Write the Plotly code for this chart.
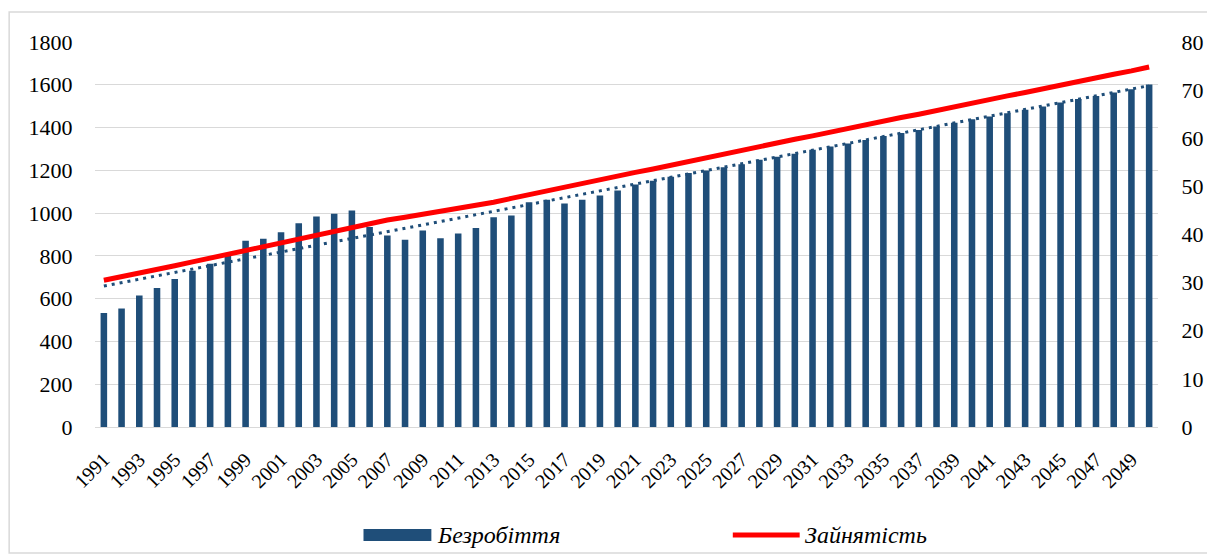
import numpy as np
import plotly.graph_objects as go

years = [str(y) for y in range(1991, 2051)]
tick_years = years[::2]

bezrobittia = [533, 554, 615, 650, 692, 731, 763, 811, 871, 880,
               911, 953, 984, 997, 1012, 935, 895, 875, 919, 883,
               905, 930, 981, 989, 1051, 1062, 1045, 1062, 1082, 1106,
               1134, 1151, 1170, 1187, 1199, 1215, 1229, 1249, 1264, 1277,
               1296, 1311, 1325, 1342, 1361, 1374, 1389, 1405, 1423, 1439,
               1452, 1467, 1483, 1498, 1517, 1533, 1548, 1564, 1579, 1601]

zainiatist = [30.5, 31.2, 32.0, 32.8, 33.5, 34.3, 35.1, 35.9, 36.7, 37.5,
              38.3, 39.1, 39.9, 40.7, 41.6, 42.4, 43.0, 43.6, 44.2, 44.8,
              45.3, 45.9, 46.7, 47.5, 48.3, 49.0, 49.9, 50.7, 51.5, 52.3,
              52.9, 53.6, 54.4, 55.2, 56.0, 56.8, 57.5, 58.3, 59.0, 59.8,
              60.5, 61.3, 62.0, 62.8, 63.5, 64.3, 65.0, 65.8, 66.5, 67.3,
              68.0, 68.8, 69.5, 70.3, 71.0, 71.8, 72.5, 73.3, 74.0, 74.8]

left_ticks = list(range(0, 1801, 200))
right_ticks = list(range(0, 81, 10))

legend_names = ["Безробіття", "Зайнятість"]

# linear trendline of the bar series (as in the original spreadsheet chart)
idx = np.arange(len(bezrobittia))
k, b = np.polyfit(idx, bezrobittia, 1)
trend = k * idx + b

# The page body adds an 8px offset, so the figure is 8px smaller and all
# reference pixel positions are shifted by that offset.
OFF = 8
W, H = 1215 - OFF, 554 - OFF
ML, MR, MT, MB = 95 - OFF, 55, 42 - OFF, 127
PW, PH = W - ML - MR, H - MT - MB


def px(x):
    return (x - OFF - ML) / PW


def py(y):
    return (H - MB - (y - OFF)) / PH


BLUE = "#1F4E79"
RED = "#FF0000"
FONT = "Liberation Serif"

fig = go.Figure()
fig.add_trace(go.Bar(x=years, y=bezrobittia, name=legend_names[0],
                     marker=dict(color=BLUE, line=dict(width=0)), showlegend=False))
fig.add_trace(go.Scatter(x=years, y=trend, mode="lines", showlegend=False,
                         line=dict(color=BLUE, width=3, dash="3px,5px")))
fig.add_trace(go.Scatter(x=years, y=zainiatist, mode="lines", name=legend_names[1],
                         yaxis="y2", showlegend=False,
                         line=dict(color=RED, width=5)))

fig.update_layout(
    width=W, height=H,
    margin=dict(l=ML, r=MR, t=MT, b=MB),
    paper_bgcolor="white", plot_bgcolor="white",
    font=dict(family=FONT, color="black", size=22),
    bargap=0.63,
    showlegend=False,
    xaxis=dict(type="category", tickmode="array", tickvals=tick_years,
               ticktext=tick_years, tickangle=-45, showgrid=False,
               showline=False, ticks="outside", ticklen=12,
               tickcolor="rgba(0,0,0,0)", tickfont=dict(size=20)),
    yaxis=dict(range=[0, 1800], tickvals=left_ticks, showgrid=True,
               gridcolor="#D9D9D9", gridwidth=1, zeroline=True,
               zerolinecolor="#D9D9D9", zerolinewidth=1, showline=False,
               ticks="outside", ticklen=17, tickcolor="rgba(0,0,0,0)",
               tickfont=dict(size=22)),
    yaxis2=dict(range=[0, 80], tickvals=right_ticks, overlaying="y",
                side="right", showgrid=False, zeroline=False, showline=False,
                ticks="outside", ticklen=18, tickcolor="rgba(0,0,0,0)",
                tickfont=dict(size=22)),
)

shapes = [
    # chart border
    dict(type="rect", xref="paper", yref="paper",
         x0=px(9), x1=px(1213.5), y0=py(553), y1=py(12),
         line=dict(color="#D9D9D9", width=1.5), fillcolor="rgba(0,0,0,0)",
         layer="below"),
    # legend swatches
    dict(type="rect", xref="paper", yref="paper",
         x0=px(364), x1=px(432), y0=py(541), y1=py(529),
         line=dict(width=0), fillcolor=BLUE),
    dict(type="line", xref="paper", yref="paper",
         x0=px(734), x1=px(801), y0=py(535), y1=py(535),
         line=dict(color=RED, width=5)),
]
annotations = [
    dict(xref="paper", yref="paper", x=px(436), y=py(535), xanchor="left",
         yanchor="middle", showarrow=False, text="<i>" + legend_names[0] + "</i>",
         font=dict(family=FONT, size=24, color="black")),
    dict(xref="paper", yref="paper", x=px(804), y=py(535), xanchor="left",
         yanchor="middle", showarrow=False, text="<i>" + legend_names[1] + "</i>",
         font=dict(family=FONT, size=24, color="black")),
]
fig.update_layout(shapes=shapes, annotations=annotations)

fig.write_html("out.html")
